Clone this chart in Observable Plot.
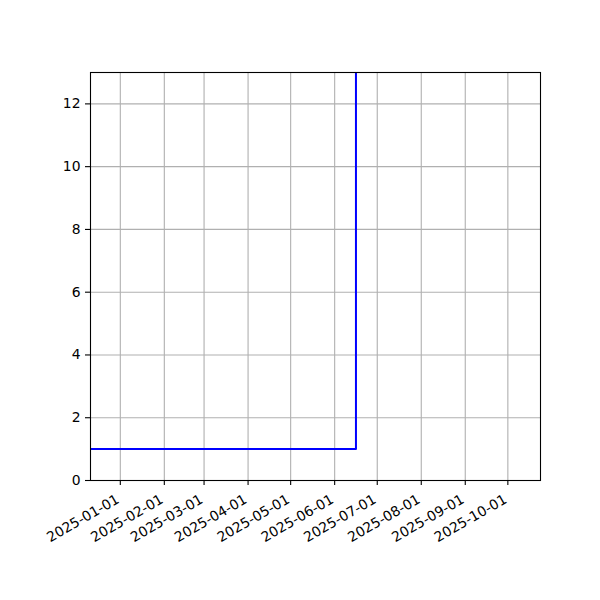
<!DOCTYPE html>
<html><head>
<meta charset="utf-8">
<script src="https://cdn.jsdelivr.net/npm/d3@7"></script>
<script src="https://cdn.jsdelivr.net/npm/@observablehq/plot@0.6"></script>
<style>body{margin:0;background:#fff}</style>
</head><body><div id="chart"></div>
<script>
// Data
const dates = ["2024-12-01", "2025-06-16", "2025-06-16"];
const values = [1, 1, 40];
const xDomain = ["2024-12-11", "2025-10-24"];
const yDomain = [0, 13];
const yTicks = [0, 2, 4, 6, 8, 10, 12];
const xTicks = ["2025-01-01","2025-02-01","2025-03-01","2025-04-01","2025-05-01","2025-06-01","2025-07-01","2025-08-01","2025-09-01","2025-10-01"];

const parse = d3.utcParse("%Y-%m-%d");
const data = dates.map((d, i) => ({date: parse(d), value: values[i]}));
const xt = xTicks.map(parse);
const fmt = d3.utcFormat("%Y-%m-%d");

const chart = Plot.plot({
  width: 600, height: 600,
  marginTop: 72, marginRight: 60, marginBottom: 120, marginLeft: 90,
  style: {fontFamily: "DejaVu Sans", fontSize: "13.9px", color: "black", background: "white"},
  x: {type: "utc", domain: xDomain.map(parse)},
  y: {domain: yDomain},
  marks: [
    Plot.gridX(xt, {stroke: "#b0b0b0", strokeOpacity: 1, strokeWidth: 1.1}),
    Plot.gridY(yTicks, {stroke: "#b0b0b0", strokeOpacity: 1, strokeWidth: 1.1}),
    Plot.line(data, {x: "date", y: "value", stroke: "blue", strokeWidth: 2, clip: true}),
    Plot.frame({stroke: "black", strokeWidth: 1.1}),
    Plot.axisY(yTicks, {tickSize: 5, tickPadding: 5, label: null, strokeWidth: 1.1}),
    Plot.axisX(xt, {tickSize: 5, tickFormat: () => "", label: null, strokeWidth: 1.1}),
    Plot.text(xt, {x: d => d, frameAnchor: "bottom", text: d => fmt(d), rotate: -30,
      textAnchor: "end", lineAnchor: "top", dx: -5, dy: 13, fill: "black"})
  ]
});
document.getElementById("chart").appendChild(chart);
</script>
</body></html>
